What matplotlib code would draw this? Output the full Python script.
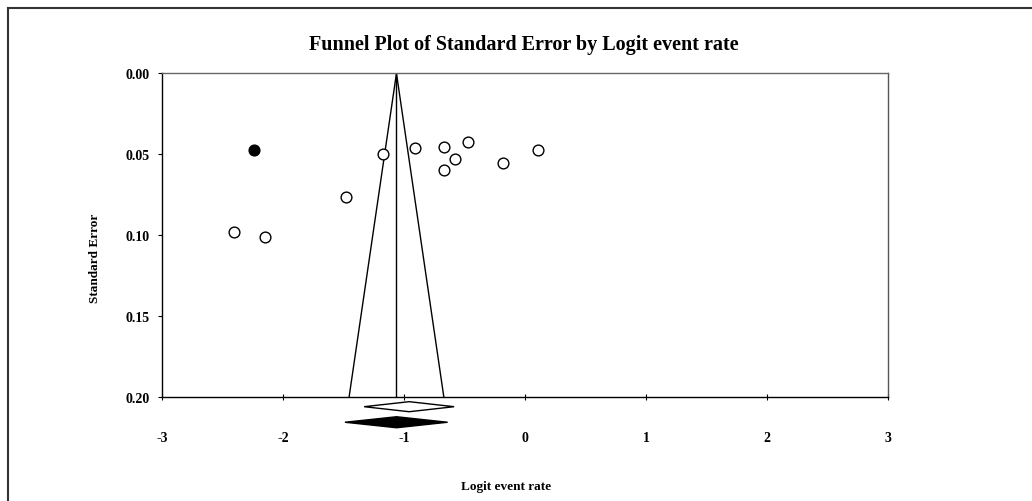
import numpy as np
import matplotlib.pyplot as plt
from matplotlib.patches import Polygon
from matplotlib.lines import Line2D

plt.rcParams['font.family'] = ['Liberation Serif', 'DejaVu Serif']
plt.rcParams['font.weight'] = 'bold'

# observed studies (logit event rate, standard error)
obs_x = [-1.179, -0.912, -0.674, -0.476, -0.579, -0.672, -0.187, 0.107, -1.484, -2.410, -2.154]
obs_se = [0.0498, 0.0463, 0.0453, 0.0424, 0.0527, 0.0595, 0.0556, 0.0472, 0.0762, 0.0978, 0.1012]
# imputed study
imp_x = [-2.240]
imp_se = [0.0472]

funnel_center = -1.064
observed_est, observed_lo, observed_hi = -0.959, -1.331, -0.587
adjusted_est, adjusted_lo, adjusted_hi = -1.063, -1.490, -0.641

x_ticks = [-3, -2, -1, 0, 1, 2, 3]
y_ticks = [0.00, 0.05, 0.10, 0.15, 0.20]

W, H = 1032, 502
fig = plt.figure(figsize=(W / 100, H / 100), dpi=100)
ax = fig.add_axes([162.3 / W, 1 - 398.3 / H, (888 - 162.3) / W, (398.3 - 74.3) / H])

ax.set_xlim(-3, 3)
ax.set_ylim(0.2, 0.0)

# funnel lines
se_max = 0.2
ax.plot([funnel_center - 1.96 * se_max, funnel_center, funnel_center + 1.96 * se_max],
        [se_max, 0, se_max], color='black', lw=1)
ax.plot([funnel_center, funnel_center], [0, se_max], color='black', lw=1)

ax.scatter(obs_x, obs_se, s=60, facecolors='white', edgecolors='black', linewidths=1, zorder=3)
ax.scatter(imp_x, imp_se, s=60, facecolors='black', edgecolors='black', linewidths=1, zorder=3)

# summary diamonds below the axis
def diamond(est, lo, hi, yc, hh, fill):
    pts = [(lo, yc), (est, yc - hh), (hi, yc), (est, yc + hh)]
    p = Polygon(pts, closed=True, facecolor='black' if fill else 'white',
                edgecolor='black', lw=1, clip_on=False, zorder=3)
    ax.add_patch(p)

diamond(observed_est, observed_lo, observed_hi, 0.2058, 0.0031, False)
diamond(adjusted_est, adjusted_lo, adjusted_hi, 0.2154, 0.0034, True)

ax.set_xticks(x_ticks)
ax.set_xticklabels([str(t) for t in x_ticks])
ax.set_yticks(y_ticks)
ax.set_yticklabels(['%.2f' % t for t in y_ticks])
ax.tick_params(axis='x', direction='inout', length=4, width=0.8, pad=22, labelsize=10)
ax.tick_params(axis='y', direction='out', length=3, width=0.8, pad=6, labelsize=10)

for s in ax.spines.values():
    s.set_linewidth(1)
ax.spines['top'].set_color('#666666')
ax.spines['right'].set_color('#555555')

fig.text(524 / W, 1 - 45 / H, 'Funnel Plot of Standard Error by Logit event rate',
         ha='center', va='center', fontsize=14.5, fontweight='bold')
fig.text(95 / W, 1 - 258 / H, 'Standard Error', ha='center', va='center',
         rotation=90, fontsize=9.5, fontweight='bold')
fig.text(506 / W, 1 - 487 / H, 'Logit event rate', ha='center', va='center',
         fontsize=9.5, fontweight='bold')

# outer frame (top and left edges visible)
fig.add_artist(Line2D([7.5 / W, 7.5 / W], [0, 1 - 8.5 / H], color='#333333', lw=1.5))
fig.add_artist(Line2D([7.5 / W, 1], [1 - 8.5 / H, 1 - 8.5 / H], color='#333333', lw=1.5))

fig.savefig('out.png', dpi=100)
